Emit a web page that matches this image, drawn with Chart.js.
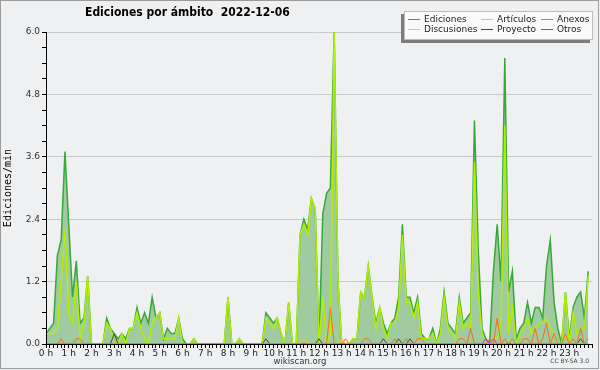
<!DOCTYPE html>
<html>
<head>
<meta charset="utf-8">
<script src="https://cdn.jsdelivr.net/npm/chart.js@4.4.1/dist/chart.umd.min.js"></script>
<style>
  html, body { margin: 0; padding: 0; background: #eff0f2; }
  #wrap { position: relative; width: 600px; height: 370px; font-family: 'DejaVu Sans', sans-serif; }
  #chart { position: absolute; left: 0; top: 0; }
  #frame { position: absolute; left: 0; top: 0; width: 597px; height: 367px; border: 1px solid #9c9c9c; pointer-events: none; }
  #title { position: absolute; left: 85px; top: 5px; font: bold 12px 'DejaVu Sans Condensed', 'DejaVu Sans', sans-serif; font-stretch: condensed; white-space: pre; color: #000; }
  #legend { position: absolute; left: 404px; top: 11px; width: 187px; height: 27px; background: #fafafa; border: 1px solid #bcbcbc; box-shadow: -3px 3px 0 #7d7d7d; }
  .sw { position: absolute; width: 12px; height: 0; border-top: 1px solid; }
  .lt { position: absolute; font-size: 9px; line-height: 10px; color: #222; white-space: nowrap; }
  #site { position: absolute; left: 0; width: 600px; top: 356px; text-align: center; font-size: 8.5px; color: #333; }
  #lic { position: absolute; right: 11px; top: 357px; font-size: 6px; color: #444; }
</style>
</head>
<body>
<div id="wrap">
  <canvas id="chart" width="600" height="370"></canvas>
  <div id="title">Ediciones por ámbito  2022-12-06</div>
  <div id="legend"></div>
  <div id="site">wikiscan.org</div>
  <div id="lic">CC BY-SA 3.0</div>
  <div id="frame"></div>
</div>
<script>
// 10-minute slots, values in edits per minute
const slots = Array.from({ length: 144 }, (_, i) => i * 10);

const ediciones = [
  0.2,0.3,0.4,1.7,2.0,3.7, 2.3,0.9,1.6,0.4,0.5,1.3,
  0,0,0,0,0.5,0.3, 0.2,0.1,0.2,0.1,0.3,0.3,
  0.7,0.4,0.6,0.4,0.9,0.5, 0.6,0.1,0.3,0.2,0.2,0.5,
  0.1,0,0,0.1,0,0, 0,0,0,0,0,0,
  0.9,0,0,0.1,0,0, 0,0,0,0,0.6,0.5,
  0.4,0.5,0.2,0,0.8,0, 0,2.1,2.4,2.2,2.8,2.6,
  0,2.5,2.9,3.0,6.0,1.2, 0,0,0,0.1,0.1,1.0,
  0.9,1.5,0.9,0.4,0.7,0.4, 0.2,0.4,0.5,0.9,2.3,0.9,
  0.9,0.6,0.9,0.2,0.1,0.1, 0.3,0,0.3,1.0,0.4,0.3,
  0.2,0.9,0.4,0.5,0.6,4.3, 1.8,0.3,0.1,0,1.4,2.3,
  1.2,5.5,1.0,1.4,0.1,0.3, 0.4,0.8,0.4,0.7,0.7,0.5,
  1.5,2.0,0.8,0.3,0,1.0, 0.1,0.7,0.9,1.0,0.5,1.4
];
const articulos = [
  0.2,0.2,0.2,0.3,1.2,2.2, 0.6,0.4,1.2,0.1,0.4,1.3,
  0,0,0,0,0.4,0.3, 0,0,0.2,0,0.3,0.3,
  0.6,0.3,0.1,0,0.4,0.5, 0.6,0.1,0.1,0.1,0.1,0.5,
  0,0,0,0.1,0,0, 0,0,0,0,0,0,
  0.9,0,0,0.1,0,0, 0,0,0,0,0.5,0.4,
  0.3,0.5,0.2,0,0.8,0, 0,2.1,2.3,2.1,2.8,2.6,
  0,0.9,0,0.2,6.0,1.2, 0,0,0,0.1,0.1,1.0,
  0.9,1.5,0.9,0.3,0.7,0.3, 0.1,0.4,0.4,0.7,2.1,0.8,
  0.8,0.5,0.8,0.1,0.1,0.1, 0.2,0,0.2,0.9,0.3,0.2,
  0.1,0.8,0.3,0.4,0.3,3.5, 1.0,0.2,0,0,0.1,0.1,
  0.3,4.2,0.2,0.7,0,0.2, 0.3,0.5,0.2,0.3,0.4,0.4,
  0.5,0.3,0.2,0,0,1.0, 0,0.6,0.2,0.3,0.3,1.3
];
const anexos = [
  0,0,0,0,0.1,0, 0,0,0.1,0.1,0,0,
  0,0,0,0,0,0, 0,0,0,0,0,0,
  0,0,0,0,0,0, 0,0,0,0,0,0,
  0,0,0,0,0,0, 0,0,0,0,0,0,
  0,0,0,0,0,0, 0,0,0,0,0,0,
  0,0,0,0,0,0, 0,0,0,0,0,0,
  0,0,0,0.7,0,0, 0,0.1,0,0,0,0,
  0.1,0.1,0,0,0,0, 0,0,0.1,0,0,0.1,
  0,0,0.1,0.1,0,0, 0,0,0,0,0,0,
  0,0.1,0.1,0,0.3,0, 0,0,0,0.1,0,0.5,
  0,0.1,0,0.1,0,0, 0.1,0.1,0,0.3,0,0.1,
  0.4,0,0.2,0,0,0.2, 0,0.1,0,0.3,0,0.1
];
const discusiones = [
  0,0,0,0,0,0, 0,0,0,0,0,0,
  0,0,0,0,0,0, 0,0,0,0,0,0,
  0,0,0,0,0,0, 0,0,0,0,0,0,
  0,0,0,0,0,0, 0,0,0,0,0,0,
  0,0,0,0,0,0, 0,0,0,0,0,0,
  0,0,0,0,0,0, 0,0,0.1,0,0,0,
  0,0,0,0,0,0, 0.1,0,0,0,0,0,
  0,0,0,0,0,0, 0,0,0,0,0,0,
  0,0,0,0,0,0, 0,0,0,0,0,0,
  0,0,0,0,0,0, 0,0,0,0,0,0,
  0,0,0.1,0,0,0, 0,0,0,0,0,0,
  0,0,0,0,0,0, 0,0,0,0,0,0
];
const proyecto = [
  0,0,0,0,0,0, 0,0,0,0,0,0,
  0,0,0,0,0,0, 0.2,0,0,0,0,0,
  0,0,0,0,0,0, 0,0,0,0,0,0,
  0,0,0,0,0,0, 0,0,0,0,0,0,
  0,0,0,0,0,0, 0,0,0,0,0.1,0,
  0,0,0,0,0,0, 0,0,0,0,0,0,
  0.1,0,0,0,0,0, 0,0,0,0,0,0,
  0,0,0,0,0,0.1, 0,0,0,0.1,0,0,
  0.1,0,0,0,0,0, 0,0,0,0,0,0,
  0,0,0,0,0,0, 0,0,0,0,0,0,
  0,0,0,0,0,0, 0,0,0,0,0,0,
  0,0,0,0,0,0, 0,0,0,0.1,0,0
];
const otros = [
  0,0,0,0,0,0, 0,0,0,0,0,0,
  0,0,0,0,0,0, 0,0,0,0,0,0,
  0,0,0,0,0,0, 0,0,0,0,0,0,
  0,0,0,0,0,0, 0,0,0,0,0,0,
  0,0,0,0,0,0, 0,0,0,0,0,0,
  0,0,0,0,0,0, 0,0,0,0,0,0,
  0,0,0,0,0,0, 0,0,0,0,0,0,
  0,0,0,0,0,0, 0,0,0,0,0,0,
  0,0,0,0,0,0, 0,0,0,0,0,0,
  0,0,0,0,0,0, 0,0,0.1,0,0.1,0,
  0,0,0,0,0,0, 0,0,0,0,0,0,
  0,0,0,0,0,0, 0,0,0,0,0,0
];

const seriesNames  = ['Ediciones', 'Artículos', 'Anexos', 'Discusiones', 'Proyecto', 'Otros'];
const seriesData   = [ediciones, articulos, anexos, discusiones, proyecto, otros];
const seriesColors = ['#36a936', '#b2ee00', '#ff6a1a', '#ffc61a', '#474747', '#8a3cff'];

const pts = arr => arr.map((v, i) => ({ x: slots[i], y: v }));
const isMajor = v => Math.abs(v / 1.2 - Math.round(v / 1.2)) < 1e-6;
const tickFont = { family: 'DejaVu Sans', size: 9 };

// legend box (3 columns x 2 rows like the original)
const legend = document.getElementById('legend');
const colX = [3, 76, 136];
const rowY = [7, 17];
seriesNames.forEach((name, i) => {
  const col = i % 3, row = i < 3 ? 0 : 1;
  const sw = document.createElement('div');
  sw.className = 'sw';
  sw.style.left = colX[col] + 'px';
  sw.style.top = rowY[row] + 'px';
  sw.style.borderColor = seriesColors[i];
  legend.appendChild(sw);
  const t = document.createElement('div');
  t.className = 'lt';
  t.style.left = (colX[col] + 16) + 'px';
  t.style.top = (rowY[row] - 5) + 'px';
  t.textContent = name;
  legend.appendChild(t);
});

new Chart(document.getElementById('chart'), {
  type: 'line',
  data: {
    datasets: seriesData.map((d, i) => ({
      label: seriesNames[i],
      data: pts(d),
      borderColor: seriesColors[i],
      borderWidth: i < 2 ? 1.5 : 1,
      backgroundColor: i === 0 ? '#a0cba0' : seriesColors[i],
      fill: i === 0 ? 'origin' : false,
      pointRadius: 0,
      tension: 0,
      order: i === 0 ? 10 : (i === 1 ? 9 : i)
    }))
  },
  options: {
    responsive: false,
    animation: false,
    devicePixelRatio: 1,
    layout: { padding: { left: 0, right: 8, top: 32, bottom: 0 } },
    plugins: { legend: { display: false }, title: { display: false }, tooltip: { enabled: false } },
    scales: {
      x: {
        type: 'linear', min: 0, max: 1440,
        afterFit: s => { s.height = 26; },
        border: { color: '#000', z: 1 },
        grid: { drawOnChartArea: false, tickColor: '#000', tickLength: 4 },
        ticks: {
          stepSize: 10, autoSkip: false, maxRotation: 0, padding: 0,
          font: tickFont, color: '#222',
          callback: v => (v % 60 === 0 && v < 1440) ? (v / 60) + ' h' : ''
        }
      },
      y: {
        min: 0, max: 6,
        afterFit: s => { s.width = 46; },
        border: { color: '#000', z: 1 },
        grid: { color: c => isMajor(c.tick.value) ? '#cacaca' : 'rgba(0,0,0,0)', tickColor: '#000', tickLength: 4 },
        ticks: {
          stepSize: 0.3, autoSkip: false, padding: 2,
          font: tickFont, color: '#333',
          callback: v => isMajor(v) ? v.toFixed(1) : ''
        },
        title: { display: true, text: 'Ediciones/min', font: { family: 'DejaVu Sans Mono', size: 10 }, color: '#000', padding: { top: 2, bottom: 0 } }
      }
    }
  }
});
</script>
</body>
</html>
